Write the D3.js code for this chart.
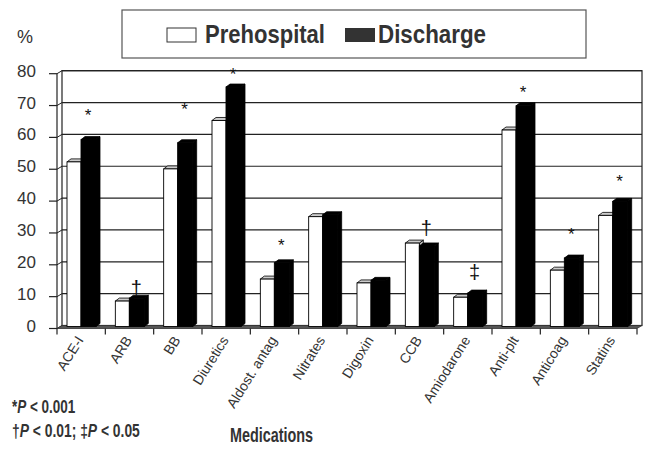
<!DOCTYPE html>
<html>
<head>
<meta charset="utf-8">
<script src="https://cdn.jsdelivr.net/npm/d3@7"></script>
<style>
  body { margin: 0; background: #fff; }
  text { font-family: "Liberation Sans", Arial, sans-serif; fill: #333; }
</style>
</head>
<body>
<div id="chart"></div>
<script>
// *** data
var categories = ["ACE-I", "ARB", "BB", "Diuretics", "Aldost. antag", "Nitrates",
                  "Digoxin", "CCB", "Amiodarone", "Anti-plt", "Anticoag", "Statins"];
var prehospital = [52, 8.3, 49.8, 65, 15.2, 34.8, 14, 26.5, 9.5, 62, 18, 35.2];
var discharge   = [59, 9.2, 58, 75.5, 20.3, 35.4, 14.8, 25.6, 10.8, 69.6, 21.8, 39.6];
var markers     = ["*", "\u2020", "*", "*", "*", "", "", "\u2020", "\u2021", "*", "*", "*"];
var markerAt    = [67.3, 11.5, 69.2, 80.2, 26.5, 0, 0, 30.3, 16.5, 74.6, 30, 46.6];
var yTicks      = [0, 10, 20, 30, 40, 50, 60, 70, 80];
var seriesNames = ["Prehospital", "Discharge"];

var W = 646, H = 449;
var dx = 5, dy = -3;          // depth of the wall (front -> back)
var bdx = 4, bdy = -3;        // depth of a bar

var svg = d3.select("#chart").append("svg")
    .attr("width", W).attr("height", H);

// *** scales
var x = d3.scaleBand().domain(categories).range([57, 637]).padding(0);
var xs = d3.scaleBand().domain(seriesNames).range([10, 38]).padding(0);
// back wall y
var y = d3.scaleLinear().domain([0, 80]).range([325.5, 70.7]);

var x0 = x.range()[0], x1 = x.range()[1];

// back wall + gridlines
svg.append("rect")
    .attr("x", x0 + dx).attr("y", y(80))
    .attr("width", x1 - x0).attr("height", y(0) - y(80))
    .attr("fill", "#fff").attr("stroke", "#222").attr("stroke-width", 1.2);

svg.selectAll(".grid").data(yTicks).enter().append("line")
    .attr("x1", x0 + dx).attr("x2", x1 + dx)
    .attr("y1", function(d) { return y(d); }).attr("y2", function(d) { return y(d); })
    .attr("stroke", "#222").attr("stroke-width", 1.2);

// left side wall
svg.selectAll(".sidegrid").data(yTicks).enter().append("line")
    .attr("x1", x0).attr("x2", x0 + dx)
    .attr("y1", function(d) { return y(d) - dy; }).attr("y2", function(d) { return y(d); })
    .attr("stroke", "#222").attr("stroke-width", 1);
svg.append("line")
    .attr("x1", x0).attr("x2", x0).attr("y1", y(80) - dy).attr("y2", y(0) - dy)
    .attr("stroke", "#222").attr("stroke-width", 1.2);

// floor
svg.append("path")
    .attr("d", "M" + x0 + "," + (y(0) - dy) + "L" + x1 + "," + (y(0) - dy) +
               "L" + (x1 + dx) + "," + y(0) + "L" + (x0 + dx) + "," + y(0) + "Z")
    .attr("fill", "#555").attr("stroke", "#333").attr("stroke-width", 0.8);

// y ticks + labels
svg.selectAll(".ytick").data(yTicks).enter().append("line")
    .attr("x1", x0 - 8).attr("x2", x0)
    .attr("y1", function(d) { return y(d) - dy; }).attr("y2", function(d) { return y(d) - dy; })
    .attr("stroke", "#222").attr("stroke-width", 1.2);
svg.selectAll(".ylab").data(yTicks).enter().append("text")
    .attr("x", 36).attr("y", function(d) { return y(d) + 6; })
    .attr("text-anchor", "end").style("font-size", "17px")
    .text(function(d) { return d; });

// x ticks
svg.selectAll(".xtick").data(categories.concat(["end"])).enter().append("line")
    .attr("x1", function(d, i) { return x0 + i * x.bandwidth(); })
    .attr("x2", function(d, i) { return x0 + i * x.bandwidth(); })
    .attr("y1", y(0) - dy).attr("y2", y(0) - dy + 6)
    .attr("stroke", "#222").attr("stroke-width", 1.2);

// *** bars
function bar(g, bx, v, w, front, top) {
    var yt = y(v) + 2, yb = y(0) + 1;
    g.append("path")   // side
        .attr("d", "M" + (bx + w) + "," + yt + "L" + (bx + w + bdx) + "," + (yt + bdy) +
                   "L" + (bx + w + bdx) + "," + (yb + bdy) + "L" + (bx + w) + "," + yb + "Z")
        .attr("fill", front === "#000" ? "#000" : "#bbb").attr("stroke", "#000").attr("stroke-width", 0.8);
    g.append("path")   // top
        .attr("d", "M" + bx + "," + yt + "L" + (bx + bdx) + "," + (yt + bdy) +
                   "L" + (bx + w + bdx) + "," + (yt + bdy) + "L" + (bx + w) + "," + yt + "Z")
        .attr("fill", top).attr("stroke", "#000").attr("stroke-width", 0.8);
    g.append("rect")
        .attr("x", bx).attr("y", yt).attr("width", w).attr("height", yb - yt)
        .attr("fill", front).attr("stroke", "#000").attr("stroke-width", 0.9);
}

var bars = svg.append("g");
categories.forEach(function(c, i) {
    bar(bars, x(c) + xs("Prehospital"), prehospital[i], xs.bandwidth(), "#fff", "#ccc");
    bar(bars, x(c) + xs("Discharge"), discharge[i], xs.bandwidth() + 1, "#000", "#000");
});

// significance markers
svg.selectAll(".mark").data(categories).enter().append("text")
    .attr("x", function(d) { return x(d) + 31; })
    .attr("y", function(d, i) { return y(markerAt[i]) + (markers[i] === "*" ? 10 : 6); })
    .attr("text-anchor", "middle")
    .style("font-size", function(d, i) { return markers[i] === "*" ? "17px" : "20px"; })
    .style("fill", "#111")
    .text(function(d, i) { return markers[i]; });

// x labels
svg.selectAll(".xlab").data(categories).enter().append("text")
    .attr("transform", function(d) {
        return "translate(" + (x(d) + x.bandwidth() / 2 + 3) + "," + 340 + ") rotate(-58)";
    })
    .attr("text-anchor", "end").style("font-size", "14px")
    .text(function(d) { return d; });

// "%" label
svg.append("text").attr("x", 17).attr("y", 43).style("font-size", "18px").text("%");

// *** legend
var legend = svg.append("g");
legend.append("rect")
    .attr("x", 122).attr("y", 10).attr("width", 464).attr("height", 48)
    .attr("fill", "#fff").attr("stroke", "#555").attr("stroke-width", 1.2);
legend.append("rect").attr("x", 167).attr("y", 28).attr("width", 29).attr("height", 14)
    .attr("fill", "#fff").attr("stroke", "#333").attr("stroke-width", 1);
legend.append("text").attr("x", 205).attr("y", 43)
    .attr("textLength", 120).attr("lengthAdjust", "spacingAndGlyphs")
    .style("font-size", "25px").style("font-weight", "bold").text(seriesNames[0]);
legend.append("rect").attr("x", 345).attr("y", 28).attr("width", 30).attr("height", 14)
    .attr("fill", "#333");
legend.append("text").attr("x", 378).attr("y", 43)
    .attr("textLength", 108).attr("lengthAdjust", "spacingAndGlyphs")
    .style("font-size", "25px").style("font-weight", "bold").text(seriesNames[1]);

// footnotes + axis title (narrow bold, squeezed horizontally)
function note(xp, yp, sx, size, parts) {
    var t = svg.append("text")
        .attr("transform", "translate(" + xp + "," + yp + ") scale(" + sx + ",1)")
        .style("font-size", size).style("font-weight", "bold");
    parts.forEach(function(p) {
        t.append("tspan").style("font-style", p[1] ? "italic" : "normal").text(p[0]);
    });
}
note(12, 413, 0.75, "18px", [["*", 0], ["P", 1], [" < 0.001", 0]]);
note(12, 437, 0.77, "18px", [["\u2020", 0], ["P", 1], [" < 0.01; \u2021", 0], ["P", 1], [" < 0.05", 0]]);
note(230, 442, 0.72, "20px", [["Medications", 0]]);
</script>
</body>
</html>
